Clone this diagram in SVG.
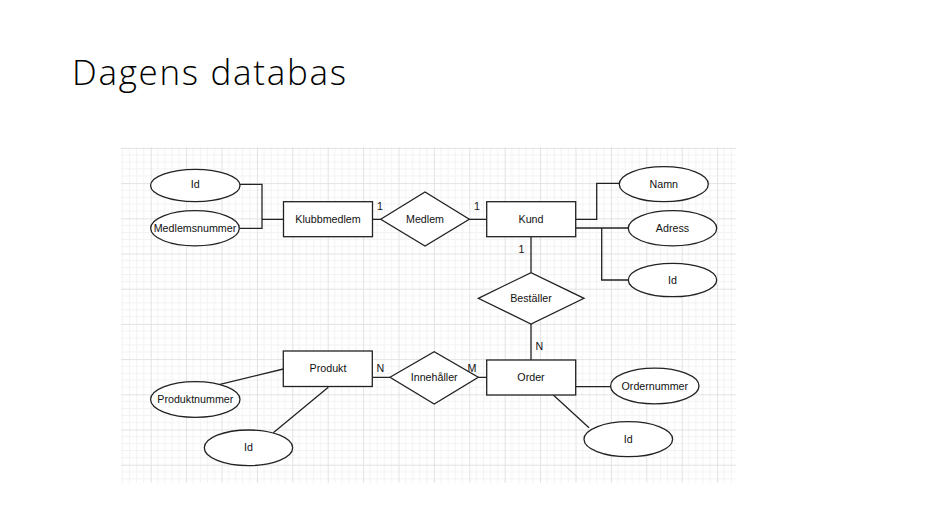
<svg xmlns="http://www.w3.org/2000/svg" width="948" height="526" viewBox="0 0 948 526">
<style>
.sh{fill:#fff;stroke:#222;stroke-width:1.3}
.ln{fill:none;stroke:#222;stroke-width:1.3}
.t{font-family:"Liberation Sans",Arial,sans-serif;font-size:10.7px;fill:#111;text-anchor:middle}
.c{font-family:"Liberation Sans",Arial,sans-serif;font-size:10.7px;fill:#111}
.title{font-family:"Open Sans","Noto Sans",sans-serif;font-weight:300;font-size:35px;fill:#000}
</style>
<defs>
<pattern id="grid" patternUnits="userSpaceOnUse" x="150.7" y="147.9" width="35.4" height="35.2">
<path d="M7.08 0V35.2M14.16 0V35.2M21.24 0V35.2M28.32 0V35.2M0 7.04H35.4M0 14.08H35.4M0 21.12H35.4M0 28.16H35.4" stroke="#f2f2f2" stroke-width="1" fill="none"/>
<path d="M0.5 0V35.2M0 0.5H35.4" stroke="#e2e2e2" stroke-width="1" fill="none"/>
</pattern>
</defs>
<rect width="948" height="526" fill="#fff"/>
<text class="title" x="72" y="85" textLength="274" lengthAdjust="spacing">Dagens databas</text>
<rect x="121" y="147" width="615" height="336" fill="url(#grid)"/>
<g id="connectors">
<path class="ln" d="M240 184.3H262V228.3H239.3M262 219.3H283.3"/>
<path class="ln" d="M372.7 219.3H380.7M469.3 219.3H486.7"/>
<path class="ln" d="M575.7 219.3H596.7V183.3H619.3"/>
<path class="ln" d="M575.7 228H628.3M601.7 228V280H628.3"/>
<path class="ln" d="M531 236.7V272.7M531 324V360"/>
<path class="ln" d="M372.3 377.3H390M478.3 377.3H486.7"/>
<path class="ln" d="M575.7 386.7H610.7M553.3 395L589 427.7"/>
<path class="ln" d="M283.3 369L220 384.3M328.3 387.3L273.3 432.7"/>
<text class="c" x="377" y="209.5">1</text>
<text class="c" x="474" y="209.5">1</text>
<text class="c" x="518.5" y="253">1</text>
<text class="c" x="535.5" y="350">N</text>
<text class="c" x="376.5" y="372">N</text>
<text class="c" x="467.5" y="371.5">M</text>
</g>
<g id="klubbmedlem"><rect class="sh" x="283.5" y="201.7" width="89" height="35"/><text class="t" x="328" y="223">Klubbmedlem</text></g>
<g id="id1"><ellipse class="sh" cx="195.3" cy="185.5" rx="44.7" ry="16.2"/><text class="t" x="195.3" y="187.5">Id</text></g>
<g id="medlemsnummer"><ellipse class="sh" cx="195" cy="228.3" rx="44.3" ry="17.6"/><text class="t" x="195" y="231.7">Medlemsnummer</text></g>
<g id="medlem"><polygon class="sh" points="380.7,219.3 425,192 469.3,219.3 425,246"/><text class="t" x="425" y="223">Medlem</text></g>
<g id="kund"><rect class="sh" x="486.7" y="201.7" width="89" height="35"/><text class="t" x="531" y="223">Kund</text></g>
<g id="namn"><ellipse class="sh" cx="663.8" cy="184.2" rx="44.5" ry="17.5"/><text class="t" x="663.8" y="187.5">Namn</text></g>
<g id="adress"><ellipse class="sh" cx="672.5" cy="228.3" rx="44.2" ry="17.6"/><text class="t" x="672.5" y="231.7">Adress</text></g>
<g id="id2"><ellipse class="sh" cx="672.5" cy="280" rx="44.2" ry="16.7"/><text class="t" x="672.5" y="284">Id</text></g>
<g id="bestaller"><polygon class="sh" points="478.3,298.3 531,272.7 584,298.3 531,324"/><text class="t" x="531" y="302">Beställer</text></g>
<g id="order"><rect class="sh" x="486.7" y="360" width="89" height="35"/><text class="t" x="531" y="381">Order</text></g>
<g id="innehaller"><polygon class="sh" points="390,377.3 434.2,351.7 478.3,377.3 434.2,404"/><text class="t" x="434.2" y="381">Innehåller</text></g>
<g id="ordernummer"><ellipse class="sh" cx="654.8" cy="386" rx="44.2" ry="17.8"/><text class="t" x="654.8" y="389.5">Ordernummer</text></g>
<g id="id3"><ellipse class="sh" cx="628.3" cy="439.2" rx="44.3" ry="17.5"/><text class="t" x="628.3" y="442.5">Id</text></g>
<g id="produkt"><rect class="sh" x="283.3" y="351" width="89" height="35.5"/><text class="t" x="328" y="372">Produkt</text></g>
<g id="produktnummer"><ellipse class="sh" cx="195.3" cy="399.5" rx="44.7" ry="17.8"/><text class="t" x="195.3" y="403">Produktnummer</text></g>
<g id="id4"><ellipse class="sh" cx="248.5" cy="447.8" rx="44.2" ry="17.8"/><text class="t" x="248.5" y="451">Id</text></g>
</svg>
